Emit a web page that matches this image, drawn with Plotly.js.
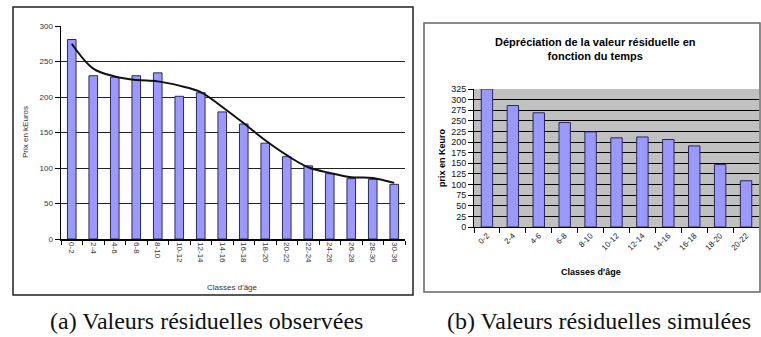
<!DOCTYPE html>
<html><head><meta charset="utf-8">
<script src="https://cdn.plot.ly/plotly-3.0.1.min.js"></script>
<style>html,body{margin:0;padding:0;background:#fff;overflow:hidden}</style>
</head><body><div id="chart" style="width:761px;height:337px"></div>
<script>
// (a) observed residual values
const obsClasses = ['0-2','2-4','4-6','6-8','8-10','10-12','12-14','14-16','16-18','18-20','20-22','22-24','24-26','26-28','28-30','30-36'];
const obsValues  = [281, 230, 228, 230, 234, 201, 206, 179, 162, 135, 116, 103, 92, 85, 84, 77];
const obsTrend   = [275, 240, 229, 224, 222, 216, 207, 186, 163, 139, 118, 101, 93, 87, 86, 79];
const obsYTicks  = [0, 50, 100, 150, 200, 250, 300];
// (b) simulated residual values
const simClasses = ['0-2','2-4','4-6','6-8','8-10','10-12','12-14','14-16','16-18','18-20','20-22'];
const simValues  = [325, 286, 269, 246, 224, 210, 212, 206, 191, 147, 109];
const simYTicks  = [0,25,50,75,100,125,150,175,200,225,250,275,300,325];

const W = 761, H = 337;
const px = x => x / W, py = y => 1 - y / H;
const sans = '"Liberation Sans", Arial, sans-serif';
const serif = '"Liberation Serif", "DejaVu Serif", serif';

const traces = [
  {type:'bar', x: obsClasses, y: obsValues, xaxis:'x', yaxis:'y', width:0.4,
   marker:{color:'#9999ff', line:{color:'#2a2a55', width:1}}},
  {type:'scatter', mode:'lines', x: obsClasses, y: obsTrend, xaxis:'x', yaxis:'y',
   line:{color:'#111', width:2, shape:'spline', smoothing:1}},
  {type:'bar', x: simClasses, y: simValues, xaxis:'x2', yaxis:'y2', width:0.44,
   marker:{color:'#9999ff', line:{color:'#2a2a55', width:1}}}
];

function ann(text, x, y, font, extra) {
  return Object.assign({text:text, xref:'paper', yref:'paper', x:px(x), y:py(y),
    xanchor:'center', yanchor:'middle', showarrow:false, font:font}, extra || {});
}

const layout = {
  width: W, height: H, margin:{l:0,r:0,t:0,b:0},
  paper_bgcolor:'#fff', plot_bgcolor:'rgba(0,0,0,0)', showlegend:false,
  xaxis:{domain:[px(61), px(405)], anchor:'y', type:'category', range:[-0.5,15.5],
    tickson:'boundaries', ticks:'outside', ticklen:4, tickcolor:'#000',
    showline:true, linecolor:'#000', linewidth:1.5, showgrid:false,
    tickangle:90, tickfont:{family:sans, size:8, color:'#333'}, fixedrange:true},
  yaxis:{domain:[py(239), py(26)], anchor:'x', range:[0,300], tickvals:obsYTicks,
    ticks:'outside', ticklen:5, tickcolor:'#000', showline:true, linecolor:'#000', linewidth:1.5,
    showgrid:true, gridcolor:'#222', gridwidth:1, zeroline:false,
    tickfont:{family:sans, size:8, color:'#333'}, fixedrange:true},
  xaxis2:{domain:[px(474), px(759)], anchor:'y2', type:'category', range:[-0.5,10.5],
    tickson:'boundaries', ticks:'outside', ticklen:5, tickcolor:'#000',
    showline:true, linecolor:'#000', linewidth:1, showgrid:false,
    tickangle:-45, tickfont:{family:sans, size:8, color:'#222'}, fixedrange:true},
  yaxis2:{domain:[py(227), py(89)], anchor:'x2', range:[0,325], tickvals:simYTicks,
    ticks:'outside', ticklen:5, tickcolor:'#000', showline:true, linecolor:'#000', linewidth:1,
    showgrid:true, gridcolor:'#000', gridwidth:1, zeroline:false,
    tickfont:{family:sans, size:9, color:'#111'}, fixedrange:true},
  shapes:[
    {type:'rect', xref:'paper', yref:'paper', x0:px(13), x1:px(413), y0:py(295), y1:py(7),
     line:{color:'#222', width:1.5}, fillcolor:'rgba(0,0,0,0)', layer:'above'},
    {type:'rect', xref:'paper', yref:'paper', x0:px(424), x1:px(760), y0:py(292), y1:py(23),
     line:{color:'#666', width:1.5}, fillcolor:'rgba(0,0,0,0)', layer:'above'},
    {type:'rect', xref:'x2 domain', yref:'y2 domain', x0:0, x1:1, y0:0, y1:1,
     line:{width:0}, fillcolor:'#c0c0c0', layer:'below'}
  ],
  annotations:[
    ann('Prix en kEuros', 25, 132, {family:sans, size:8, color:'#333'}, {textangle:-90}),
    ann("Classes d'âge", 233, 287, {family:sans, size:8, color:'#333'}),
    ann('<b>Dépréciation de la valeur résiduelle en<br>fonction du temps</b>', 595, 48.5,
        {family:sans, size:11, color:'#000'}),
    ann('<b>prix en Keuro</b>', 442, 158, {family:sans, size:9, color:'#000'}, {textangle:-90}),
    ann("<b>Classes d'âge</b>", 591, 272, {family:sans, size:9, color:'#000'}),
    ann('(a) Valeurs résiduelles observées', 206, 321, {family:serif, size:24, color:'#111'}),
    ann('(b) Valeurs résiduelles simulées', 599, 321, {family:serif, size:24, color:'#111'})
  ]
};
Plotly.newPlot('chart', traces, layout, {displayModeBar:false, staticPlot:true});
</script></body></html>
